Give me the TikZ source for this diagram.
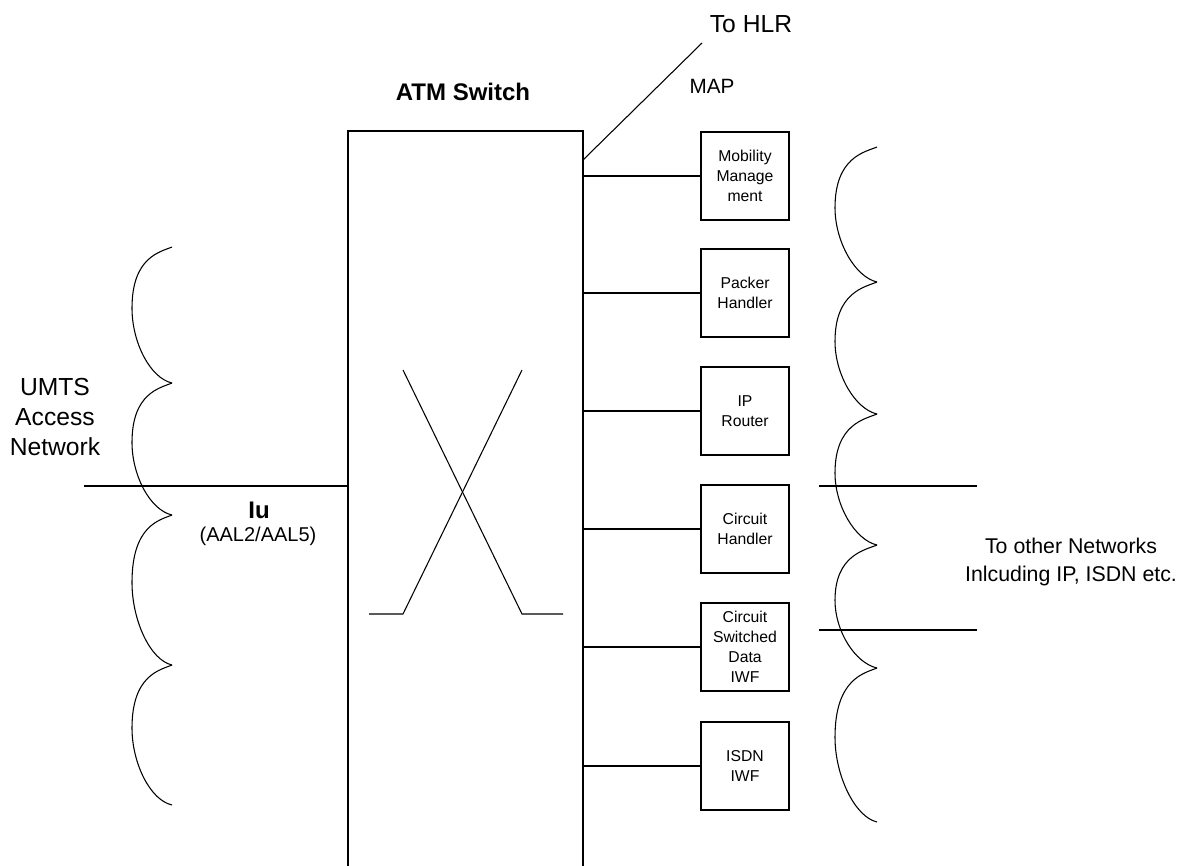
\documentclass[tikz,border=0pt]{standalone}
\usepackage{fontspec}
\setmainfont{Liberation Sans}
\begin{document}
\begin{tikzpicture}[x=0.75pt,y=0.75pt,yscale=-1,xscale=1,line width=0.8pt,
    unit/.style={draw, minimum width=66pt, minimum height=66pt, inner sep=0.75pt, align=center, font=\fontsize{11.8}{15}\selectfont},
    lbl/.style={inner sep=0.75pt, align=center}]
  \useasboundingbox (0,0) rectangle (1191,866);
  % ATM switch frame, open at the bottom
  \coordinate (swl) at (348,866);
  \coordinate (swr) at (583,866);
  \draw (swl) -- (348,131) -- (583,131) -- (swr);
  \node[lbl, font=\fontsize{18}{22}\selectfont\bfseries] (atm) at (463,92) {ATM Switch};
  % switching cross
  \draw (369,614) -- (403,614) -- (522,370);
  \draw (563,614) -- (522,614) -- (403,370);
  % link to HLR
  \coordinate (maplink) at (583,160);
  \coordinate (hlr) at (702,43);
  \draw (maplink) -- (hlr);
  \node[lbl, font=\fontsize{18.5}{22}\selectfont] (tohlr) at (751,24) {To HLR};
  \node[lbl, font=\fontsize{15.5}{18}\selectfont] (map) at (712,86) {MAP};
  % functional units
  \node[unit] (mm) at (745,176) {Mobility\\Manage\\ment};
  \node[unit] (ph) at (745,293) {Packer\\Handler};
  \node[unit] (ipr) at (745,411) {IP\\Router};
  \node[unit] (ch) at (745,529) {Circuit\\Handler};
  \node[unit] (csd) at (745,647) {Circuit\\Switched\\Data\\IWF};
  \node[unit] (isdn) at (745,766) {ISDN\\IWF};
  \foreach \u in {mm,ph,ipr,ch,csd,isdn}
    \draw (\u.west) -- (\u.west -| swr);
  % access side
  \coordinate (iuend) at (84,486);
  \draw (iuend) -- (iuend -| swl);
  \node[lbl, font=\fontsize{18.5}{22.5}\selectfont] (umts) at (55,417) {UMTS\\Access\\Network};
  \node[lbl, font=\fontsize{18}{22}\selectfont\bfseries] (iu) at (259,510) {Iu};
  \node[lbl, font=\fontsize{15}{18}\selectfont] (aal) at (258,536) {(AAL2/AAL5)};
  \foreach \ya/\yb in {247/383,383/515,515/665,665/805}
    \draw (172,\ya) .. controls (160,{\ya+5}) and (132,{\ya+10}) .. (132,{\ya+0.45*(\yb-\ya)})
          .. controls (132,{\ya+0.7*(\yb-\ya)}) and (150,{\yb-5}) .. (172,\yb);
  % network side
  \coordinate (neta) at (819,486);
  \coordinate (netb) at (819,630);
  \draw (neta) -- ++(158,0);
  \draw (netb) -- ++(158,0);
  \node[lbl, font=\fontsize{16}{21}\selectfont] (others) at (1071,562) {To other Networks\\Inlcuding IP, ISDN etc.};
  \foreach \ya/\yb in {147/282,282/414,414/545,545/668,668/822}
    \draw (877,\ya) .. controls (865,{\ya+5}) and (835,{\ya+10}) .. (835,{\ya+0.45*(\yb-\ya)})
          .. controls (835,{\ya+0.7*(\yb-\ya)}) and (855,{\yb-5}) .. (877,\yb);
\end{tikzpicture}
\end{document}
